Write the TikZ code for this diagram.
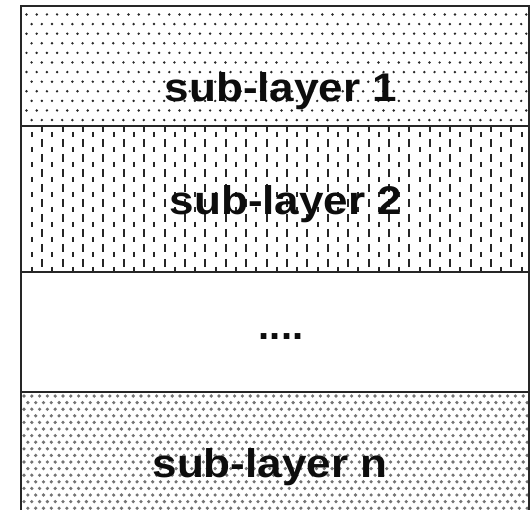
\documentclass[tikz,border=0pt]{standalone}
\usepackage{fontspec}
\setmainfont{Liberation Sans}
\begin{document}
\begin{tikzpicture}[x=1pt,y=-1pt,
  frame/.style={line width=2.6pt, draw=black!85},
  lbl/.style={font=\fontsize{40}{40}\selectfont\bfseries, text=black!95, inner sep=0pt, anchor=base},
  pdot/.style={fill=black!85},
  gdot/.style={fill=black!55},
  vdash/.style={line width=1.9pt, draw=black!85}]
\useasboundingbox (0,0) rectangle (532,510);
\fill[white] (0,0) rectangle (532,510);
% layer 1: dot grid
\begin{scope}
  \clip (21,6) rectangle (529,126);
  \foreach \j in {0,...,12}{
    \foreach \i in {0,...,50}{
      \fill[pdot] ({26.5+10.2*\i+5.1*mod(\j,2)},{14.5+9.6*\j}) circle (1.35pt);
    }
  }
\end{scope}
% layer 2: vertical dashes
\begin{scope}
  \clip (21,126) rectangle (529,272);
  \foreach \i in {0,...,50}{
    \ifodd\i
      \draw[vdash, dash pattern=on 8pt off 7pt, dash phase=2pt] ({32+10.2*\i},126) -- ({32+10.2*\i},272);
    \else
      \draw[vdash, dash pattern=on 5pt off 10pt, dash phase=-6pt] ({32+10.2*\i},126) -- ({32+10.2*\i},272);
    \fi
  }
\end{scope}
% layer 4: dense grey dots
\begin{scope}
  \clip (21,392) rectangle (529,510);
  \foreach \j in {0,...,18}{
    \foreach \i in {0,...,66}{
      \fill[gdot] ({24+7.8*\i+3.9*mod(\j,2)},{396+6.6*\j}) circle (1.8pt);
    }
  }
\end{scope}
% frame
\draw[frame] (21,510) -- (21,6) -- (529,6) -- (529,510);
\draw[frame] (21,126) -- (529,126);
\draw[frame] (21,272) -- (529,272);
\draw[frame] (21,392) -- (529,392);
% labels
\node[lbl] (l1) at (281,102) {\scalebox{1.1}[1]{sub-layer 1}};
\node[lbl] (l2) at (286,215) {\scalebox{1.1}[1]{sub-layer 2}};
\node[lbl] (l3) at (281,339) {....};
\node[lbl] (l4) at (270,477) {\scalebox{1.1}[1]{sub-layer n}};
\end{tikzpicture}
\end{document}
